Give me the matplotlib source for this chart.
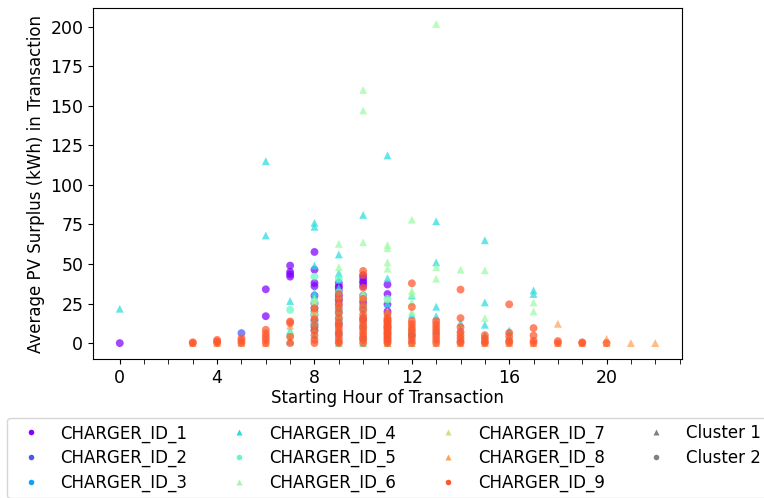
import numpy as np
import matplotlib
matplotlib.use("Agg")
import matplotlib.pyplot as plt
from matplotlib.lines import Line2D

# Starting hour / average PV surplus (kWh) per charger
ch1_hours = [0, 6, 6, 7, 7, 7, 7, 8, 8, 8, 8, 8, 8, 9, 9, 9, 9, 9, 9,
             10, 10, 10, 10, 10, 10, 10, 11, 11, 11, 11]
ch1_vals = [0, 34, 17, 49, 45, 43.5, 42, 57.6, 46.4, 38, 36, 30, 25, 38, 36, 35, 33, 30, 27,
            42.8, 41, 39, 38, 36, 30, 26, 37, 31, 24.5, 20]

ch2_hours = [5, 8, 8, 8, 8, 9, 9, 9, 9, 10, 10, 11]
ch2_vals = [6.3, 17.5, 14, 10, 22, 28, 24, 20, 12, 22, 15, 10]

ch3_hours = [8, 8, 8, 9, 9, 10, 10, 12]
ch3_vals = [12, 8, 20, 15, 6, 10, 3, 5]

ch4_hours = [0, 5, 6, 6, 7, 7, 7, 8, 8, 8, 8, 8, 8, 8, 9, 9, 9, 9, 9, 9,
             10, 10, 10, 10, 11, 11, 11, 11, 12, 12, 12, 13, 13, 13, 13, 13,
             14, 14, 14, 15, 15, 15, 15, 16, 16, 17, 17]
ch4_vals = [21.7, 1, 115, 68, 26.6, 8, 1, 76, 73.5, 49, 32, 30, 15, 5, 56, 44.3, 40, 35, 20, 0,
            81, 25, 18, 0, 118.6, 41, 25, 0, 30, 18, 2, 77, 51, 23, 17, 8,
            13, 9, 3, 65, 25.7, 11.6, 5, 8, 4, 33.3, 31]

ch5_hours = [7, 7, 8, 8, 8, 8, 9, 9, 9, 9, 10, 10, 10, 11, 11, 11, 12]
ch5_vals = [21, 5, 42, 26, 18, 12, 40.7, 32, 20, 15, 30, 22, 10, 28, 14, 6, 8]

ch6_hours = [7, 8, 8, 8, 9, 9, 9, 9, 9, 10, 10, 10, 10, 10, 10,
             11, 11, 11, 11, 11, 11, 11, 12, 12, 12, 12, 12, 12,
             13, 13, 13, 13, 14, 14, 15, 15, 15, 16, 17, 17]
ch6_vals = [6, 28, 26, 8, 62.7, 48, 30, 18, 0, 160, 147, 63.7, 31, 29, 0,
            62, 60, 51, 47, 28, 20, 0, 78, 33, 31, 26, 20, 0,
            201.7, 48, 40.7, 10, 46.4, 5, 46, 15.8, 2, 3, 25.7, 20]

ch7_hours = [8, 8, 9, 9, 10, 10, 11, 12]
ch7_vals = [24, 20, 25, 12, 30, 8, 5, 10]

ch8_hours = [3, 4, 5, 6, 7, 7, 8, 8, 9, 10, 11, 12, 13, 14, 15, 16, 17,
             18, 18, 19, 20, 20, 21, 22]
ch8_vals = [0, 0, 0, 0, 11, 2, 21, 18, 25, 5, 0, 0, 0, 0, 0, 0, 0,
            12.2, 0, 0, 2.7, 0, 0, 0]

ch9_hours = ([3, 3] + [4] * 3 + [5] * 3 + [6] * 5 + [7] * 4 + [8] * 7 + [9] * 14 +
             [10] * 16 + [11] * 18 + [12] * 10 + [13] * 8 + [14] * 8 + [15] * 4 +
             [16] * 5 + [17] * 4 + [18] * 2 + [19] * 2 + [20])
ch9_vals = [0.5, 0,
            2, 1, 0,
            3, 1.5, 0,
            8.4, 6, 4, 2, 0,
            13.7, 12.7, 4, 0,
            22, 15, 11, 8, 5, 2, 0,
            31, 28, 25, 22, 19, 16, 13, 11, 9, 7, 5, 3, 1, 0,
            45.6, 43, 35, 28, 24, 21, 18, 16, 14, 12, 10, 8, 6, 4, 2, 0,
            18.6, 16, 15, 14, 13, 12, 11, 10, 9, 8, 7, 6, 5, 4, 3, 2, 1, 0,
            37.8, 22.8, 14, 12, 10, 8, 6, 4, 2, 0,
            14, 12, 10, 8, 6, 4, 2, 0,
            33.8, 15.8, 10, 7, 5, 3, 1, 0,
            5, 3, 1, 0,
            24.5, 6.5, 4, 1.3, 0,
            9.5, 4.8, 1.5, 0,
            1.3, 0,
            0.5, 0,
            0]

charger_names = ["CHARGER_ID_1", "CHARGER_ID_2", "CHARGER_ID_3", "CHARGER_ID_4",
                 "CHARGER_ID_5", "CHARGER_ID_6", "CHARGER_ID_7", "CHARGER_ID_8",
                 "CHARGER_ID_9"]
charger_cluster = [2, 2, 2, 1, 2, 1, 1, 1, 2]
cluster_names = ["Cluster 1", "Cluster 2"]

hours = [ch1_hours, ch2_hours, ch3_hours, ch4_hours, ch5_hours,
         ch6_hours, ch7_hours, ch8_hours, ch9_hours]
vals = [ch1_vals, ch2_vals, ch3_vals, ch4_vals, ch5_vals,
        ch6_vals, ch7_vals, ch8_vals, ch9_vals]

colors = plt.cm.rainbow(np.linspace(0, 1, 10))[:9]
cluster_marker = {1: "^", 2: "o"}

plt.rcParams["font.family"] = ["DejaVu Sans"]
plt.rcParams["font.size"] = 12

fig = plt.figure(figsize=(7.64, 4.98), dpi=100)
ax = fig.add_axes([0.1217, 0.279, 0.771, 0.705])

for name, h, v, c, cl in zip(charger_names, hours, vals, colors, charger_cluster):
    ax.scatter(h, v, color=c, marker=cluster_marker[cl], s=32, alpha=0.72,
               edgecolors="none")

ax.set_xticks([0, 4, 8, 12, 16, 20])
ax.set_xticks(range(0, 24), minor=True)
ax.set_yticks([0, 25, 50, 75, 100, 125, 150, 175, 200])
ax.tick_params(axis="both", labelsize=12.5)
ax.tick_params(axis="x", which="minor", length=3.5)
ax.set_xlabel("Starting Hour of Transaction", fontsize=12, labelpad=1.5)
ax.set_ylabel("Average PV Surplus (kWh) in Transaction", fontsize=12)

handles = []
labels = []
for name, c, cl in zip(charger_names, colors, charger_cluster):
    handles.append(Line2D([], [], linestyle="none", marker=cluster_marker[cl],
                          markerfacecolor=c, markeredgecolor="none", markersize=4))
    labels.append(name)
for i, cl_name in enumerate(cluster_names):
    handles.append(Line2D([], [], linestyle="none", marker=cluster_marker[i + 1],
                          markerfacecolor="gray", markeredgecolor="none", markersize=4))
    labels.append(cl_name)
handles.append(Line2D([], [], linestyle="none"))
labels.append("")

ax.legend(handles, labels, loc="upper center", bbox_to_anchor=(0.5, -0.143),
          ncol=4, fontsize=12, frameon=True, columnspacing=2.1,
          handletextpad=0.8, labelspacing=0.38)

fig.savefig("out.png", dpi=100)
